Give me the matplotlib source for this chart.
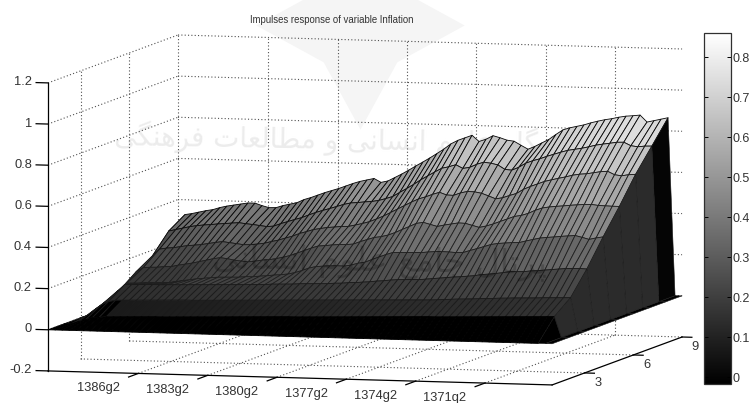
import numpy as np
import matplotlib
matplotlib.use("Agg")
import matplotlib.pyplot as plt
from matplotlib.cm import ScalarMappable
from matplotlib.colors import Normalize
from matplotlib.lines import Line2D
from mpl_toolkits.mplot3d import proj3d

plt.rcParams['font.family'] = ['Liberation Sans', 'DejaVu Sans']

title = "Impulses response of variable Inflation"
watermark_top = "پژوهشگاه علوم انسانی و مطالعات فرهنگی"
watermark_low = "پرتال جامع علوم انسانی"
x_ticks = [12.9, 22.8, 32.7, 42.6, 52.5, 62.4]
x_labels = ["1386g2", "1383g2", "1380g2", "1377g2", "1374g2", "1371q2"]
y_ticks = [3, 6, 9]
z_ticks = [-0.2, 0, 0.2, 0.4, 0.6, 0.8, 1, 1.2]
z_labels = ["-0.2", "0", "0.2", "0.4", "0.6", "0.8", "1", "1.2"]
bar_ticks = [0, 0.1, 0.2, 0.3, 0.4, 0.5, 0.6, 0.7, 0.8]
bar_labels = ["0", "0.1", "0.2", "0.3", "0.4", "0.5", "0.6", "0.7", "0.8"]

horizon = [1, 2, 3, 4, 5, 6, 7, 8, 9]
period = list(range(73))

row1 = [0.0] * 73
row2 = [0, .001, .012, .022, .033, .036, .040, .041, .042, .043, .044, .045, .046, .047, .047, .048, .049, .050, .051, .052, .053, .054, .055, .056, .057, .058, .059, .060, .061, .062, .063, .064, .065, .065, .066, .067, .068, .069, .070, .071, .072, .073, .074, .075, .076, .077, .078, .079, .080, .081, .082, .083, .084, .084, .085, .086, .087, .088, .089, .090, .091, .092, .093, .094, .095, .096, .097, .098, .099, .100, .101, 0, 0]
row3 = [0, .011, .041, .066, .082, .090, .091, .092, .093, .094, .095, .096, .097, .098, .099, .100, .100, .101, .102, .103, .104, .105, .106, .107, .108, .109, .110, .111, .112, .113, .114, .115, .116, .117, .118, .119, .120, .121, .122, .123, .124, .125, .126, .127, .128, .129, .130, .131, .132, .133, .134, .136, .138, .140, .142, .143, .145, .147, .149, .150, .152, .153, .155, .156, .157, .158, .160, .161, .162, .163, .164, 0, 0]
row4 = [0, .035, .070, .105, .136, .137, .138, .139, .140, .140, .141, .142, .143, .144, .145, .146, .147, .148, .149, .150, .151, .152, .153, .154, .155, .158, .159, .160, .161, .164, .165, .166, .167, .168, .171, .172, .176, .177, .180, .183, .187, .190, .194, .197, .198, .199, .200, .203, .207, .210, .214, .217, .220, .223, .227, .233, .236, .240, .245, .251, .252, .253, .257, .260, .263, .267, .270, .274, .275, .276, .274, 0, 0]
row5 = [0, .079, .112, .113, .114, .117, .118, .119, .120, .126, .132, .137, .143, .146, .150, .153, .154, .155, .156, .160, .160, .164, .167, .171, .174, .178, .186, .197, .210, .218, .221, .224, .225, .224, .230, .240, .246, .260, .273, .286, .297, .298, .299, .300, .300, .304, .307, .308, .307, .305, .306, .317, .327, .338, .349, .355, .358, .361, .362, .371, .379, .387, .391, .394, .398, .401, .404, .396, .387, .395, .401, 0, 0]
row6 = [0, .138, .158, .161, .162, .166, .167, .175, .181, .187, .195, .203, .211, .217, .213, .207, .203, .201, .205, .211, .214, .220, .228, .237, .250, .263, .276, .287, .290, .294, .297, .298, .301, .314, .325, .336, .341, .350, .363, .379, .394, .410, .416, .407, .398, .406, .412, .418, .417, .408, .399, .407, .418, .431, .444, .457, .463, .474, .490, .502, .508, .512, .515, .519, .522, .525, .526, .522, .521, .520, .520, 0, 0]
row7 = [0, .186, .219, .225, .228, .234, .240, .243, .247, .253, .259, .264, .260, .256, .252, .253, .257, .262, .271, .279, .290, .300, .314, .324, .335, .341, .347, .350, .354, .355, .363, .371, .381, .395, .410, .428, .446, .464, .482, .498, .509, .522, .533, .521, .520, .533, .541, .540, .534, .522, .509, .515, .527, .538, .559, .574, .587, .600, .609, .617, .625, .634, .640, .643, .649, .655, .658, .642, .638, .644, .647, 0, 0]
row8 = [0, .277, .285, .293, .301, .307, .311, .314, .318, .321, .324, .327, .323, .320, .316, .312, .315, .328, .339, .350, .360, .374, .387, .398, .408, .419, .430, .438, .441, .445, .448, .454, .464, .475, .496, .516, .537, .560, .580, .600, .619, .627, .638, .621, .627, .643, .654, .650, .643, .622, .619, .634, .655, .668, .678, .691, .702, .713, .723, .729, .735, .743, .752, .758, .763, .769, .770, .754, .750, .754, .755, 0, 0]
row9 = [0, .328, .334, .342, .350, .356, .367, .375, .381, .387, .393, .393, .382, .373, .374, .385, .393, .401, .417, .428, .441, .454, .465, .476, .489, .502, .513, .521, .529, .511, .519, .537, .555, .575, .596, .616, .637, .659, .682, .708, .726, .739, .752, .723, .735, .753, .744, .733, .729, .710, .692, .707, .725, .743, .768, .791, .802, .810, .818, .829, .838, .846, .852, .860, .866, .869, .873, .840, .848, .856, .864, 0, 0]
# colour of the steep end wall and edge grey of each band
wall_levels = [0, .08, .08, .08, .08, .08, .08, .005]
edge_levels = [0, .1, .1, .12, .12, .1, .06, .02]

# letter -> isolated, final, initial, medial glyph, matplotlib does no arabic shaping
forms = {'ا': (0xFE8D, 0xFE8E), 'و': (0xFEED, 0xFEEE), 'ر': (0xFEAD, 0xFEAE), 'ژ': (0xFB8A, 0xFB8B),
         'پ': (0xFB56, 0xFB57, 0xFB58, 0xFB59), 'ه': (0xFEE9, 0xFEEA, 0xFEEB, 0xFEEC),
         'ش': (0xFEB5, 0xFEB6, 0xFEB7, 0xFEB8), 'گ': (0xFB92, 0xFB93, 0xFB94, 0xFB95),
         'ع': (0xFEC9, 0xFECA, 0xFECB, 0xFECC), 'ل': (0xFEDD, 0xFEDE, 0xFEDF, 0xFEE0),
         'م': (0xFEE1, 0xFEE2, 0xFEE3, 0xFEE4), 'ن': (0xFEE5, 0xFEE6, 0xFEE7, 0xFEE8),
         'س': (0xFEB1, 0xFEB2, 0xFEB3, 0xFEB4), 'ی': (0xFBFC, 0xFBFD, 0xFBFE, 0xFBFF),
         'ط': (0xFEC1, 0xFEC2, 0xFEC3, 0xFEC4), 'ت': (0xFE95, 0xFE96, 0xFE97, 0xFE98),
         'ف': (0xFED1, 0xFED2, 0xFED3, 0xFED4), 'ج': (0xFE9D, 0xFE9E, 0xFE9F, 0xFEA0)}


def shape(text):
    out = []
    for i, c in enumerate(text):
        if c not in forms:
            out.append(c)
            continue
        before = i > 0 and text[i - 1] in forms and len(forms[text[i - 1]]) == 4
        after = i + 1 < len(text) and text[i + 1] in forms and len(forms[c]) == 4
        out.append(chr(forms[c][{(0, 0): 0, (1, 0): 1, (0, 1): 2, (1, 1): 3}[(int(before), int(after))]]))
    return ''.join(out[::-1])


def label3d(x, y, z, text, ha):
    # plain 2D text at the projected point
    px, py, _ = proj3d.proj_transform(x, y, z, ax.get_proj())
    ax.text2D(px, py, text, transform=ax.transData, ha=ha, va='center', fontsize=9.3, color='#333333')


fig = plt.figure(figsize=(7.53, 4.03), dpi=100)
ax = fig.add_axes([-20.5 / 753, -192.5 / 403, 750.8 / 753, 750.8 / 403], projection='3d')
ax.set_proj_type('ortho')
ax.view_init(elev=5.81, azim=-74.65)
ax.set_box_aspect((522.7, 491, 289.5))
ax.set_axis_off()
ax.patch.set_visible(False)
ax.computed_zorder = False
ax.set_xlim(0, 72)
ax.set_ylim(1, 9)
ax.set_zlim(-0.2, 1.2)

T, H = np.meshgrid(period, horizon)
Z = np.array([row1, row2, row3, row4, row5, row6, row7, row8, row9])
norm = Normalize(0, 0.87)


def shade(values):
    return plt.cm.gray(0.95 * norm(np.array(values)) ** 0.72)


colors = shade(Z)
colors[:, 0] = colors[:, 1]
colors[1, :6] = (0, 0, 0, 1)
colors[:8, 70] = shade(wall_levels)
# back bands first so the front ones cover them
for i in range(7, -1, -1):
    g = edge_levels[i]
    ax.plot_surface(T[i:i + 2, :71], H[i:i + 2, :71], Z[i:i + 2, :71], facecolors=colors[i:i + 2, :71],
                    rstride=1, cstride=1, shade=False, edgecolor=(g, g, g), linewidth=0.6, zorder=2)
ax.plot_surface(T[:, 70:], H[:, 70:], Z[:, 70:], facecolors=colors[:, 70:], rstride=1, cstride=1,
                shade=False, edgecolor=(0.1, 0.1, 0.1), linewidth=0.4, zorder=2)

# dotted grid on the floor and the two walls
dots = dict(color='#505050', lw=0.8, ls=(0, (1, 2)), zorder=1)
for z in z_ticks[1:]:
    ax.plot([0, 72], [9, 9], [z, z], **dots)
    ax.plot([0, 0], [1, 9], [z, z], **dots)
for x in x_ticks:
    ax.plot([x, x], [9, 9], [-0.2, 1.2], **dots)
    ax.plot([x, x], [1, 9], [-0.2, -0.2], **dots)
for y in y_ticks:
    ax.plot([0, 0], [y, y], [-0.2, 1.2], **dots)
    ax.plot([0, 72], [y, y], [-0.2, -0.2], **dots)
ax.plot([0, 72], [1, 1], [-0.2, -0.2], color='k', lw=0.9, zorder=3)
ax.plot([72, 72], [1, 9], [-0.2, -0.2], color='k', lw=0.9, zorder=3)
ax.plot([0, 0], [1, 1], [-0.2, 1.2], color='k', lw=0.9, zorder=3)

for z, label in zip(z_ticks, z_labels):
    ax.plot([-1.7, 0], [1, 1], [z, z], color='k', lw=0.9, zorder=3)
    label3d(-2.3, 1, z, label, 'right')
for x, label in zip(x_ticks, x_labels):
    ax.plot([x, x], [0.4, 1], [-0.2, -0.2], color='k', lw=0.9, zorder=3)
    label3d(x, -1.46, -0.2, label, 'center')
for y in y_ticks:
    ax.plot([72, 73.4], [y, y], [-0.2, -0.2], color='k', lw=0.9, zorder=3)
    label3d(73.9, y, -0.245, str(y), 'center')

fig.text(332 / 753, 1 - 20 / 403, title, ha='center', va='center', fontsize=6.9, color='#333333')

# faint logo and stamp of the source
fig.add_artist(Line2D([360 / 753], [1 - 25 / 403], marker=(4, 1, 0), markersize=150, color='#f5f5f5', mew=0,
                      transform=fig.transFigure, zorder=-2))
fig.text(365 / 753, 1 - 140 / 403, shape(watermark_top), ha='center', va='center', fontsize=20,
         color='#ececec', family='DejaVu Sans', rotation=-1, zorder=-1)
fig.text(380 / 753, 1 - 262 / 403, shape(watermark_low), ha='center', va='center', fontsize=24,
         color='k', alpha=0.22, family='DejaVu Sans', rotation=-1, zorder=5)

cax = fig.add_axes([704 / 753, 1 - 384 / 403, 27 / 753, 351 / 403])
bar = fig.colorbar(ScalarMappable(norm=Normalize(-0.017, 0.86), cmap='gray'), cax=cax)
bar.set_ticks(bar_ticks)
bar.set_ticklabels(bar_labels)
cax.tick_params(direction='in', length=3, width=0.7, left=True, right=True, pad=1,
                labelsize=9, labelcolor='#333333')
bar.outline.set_linewidth(0.9)
bar.outline.set_edgecolor('#303030')

fig.savefig('out.png', dpi=100)
